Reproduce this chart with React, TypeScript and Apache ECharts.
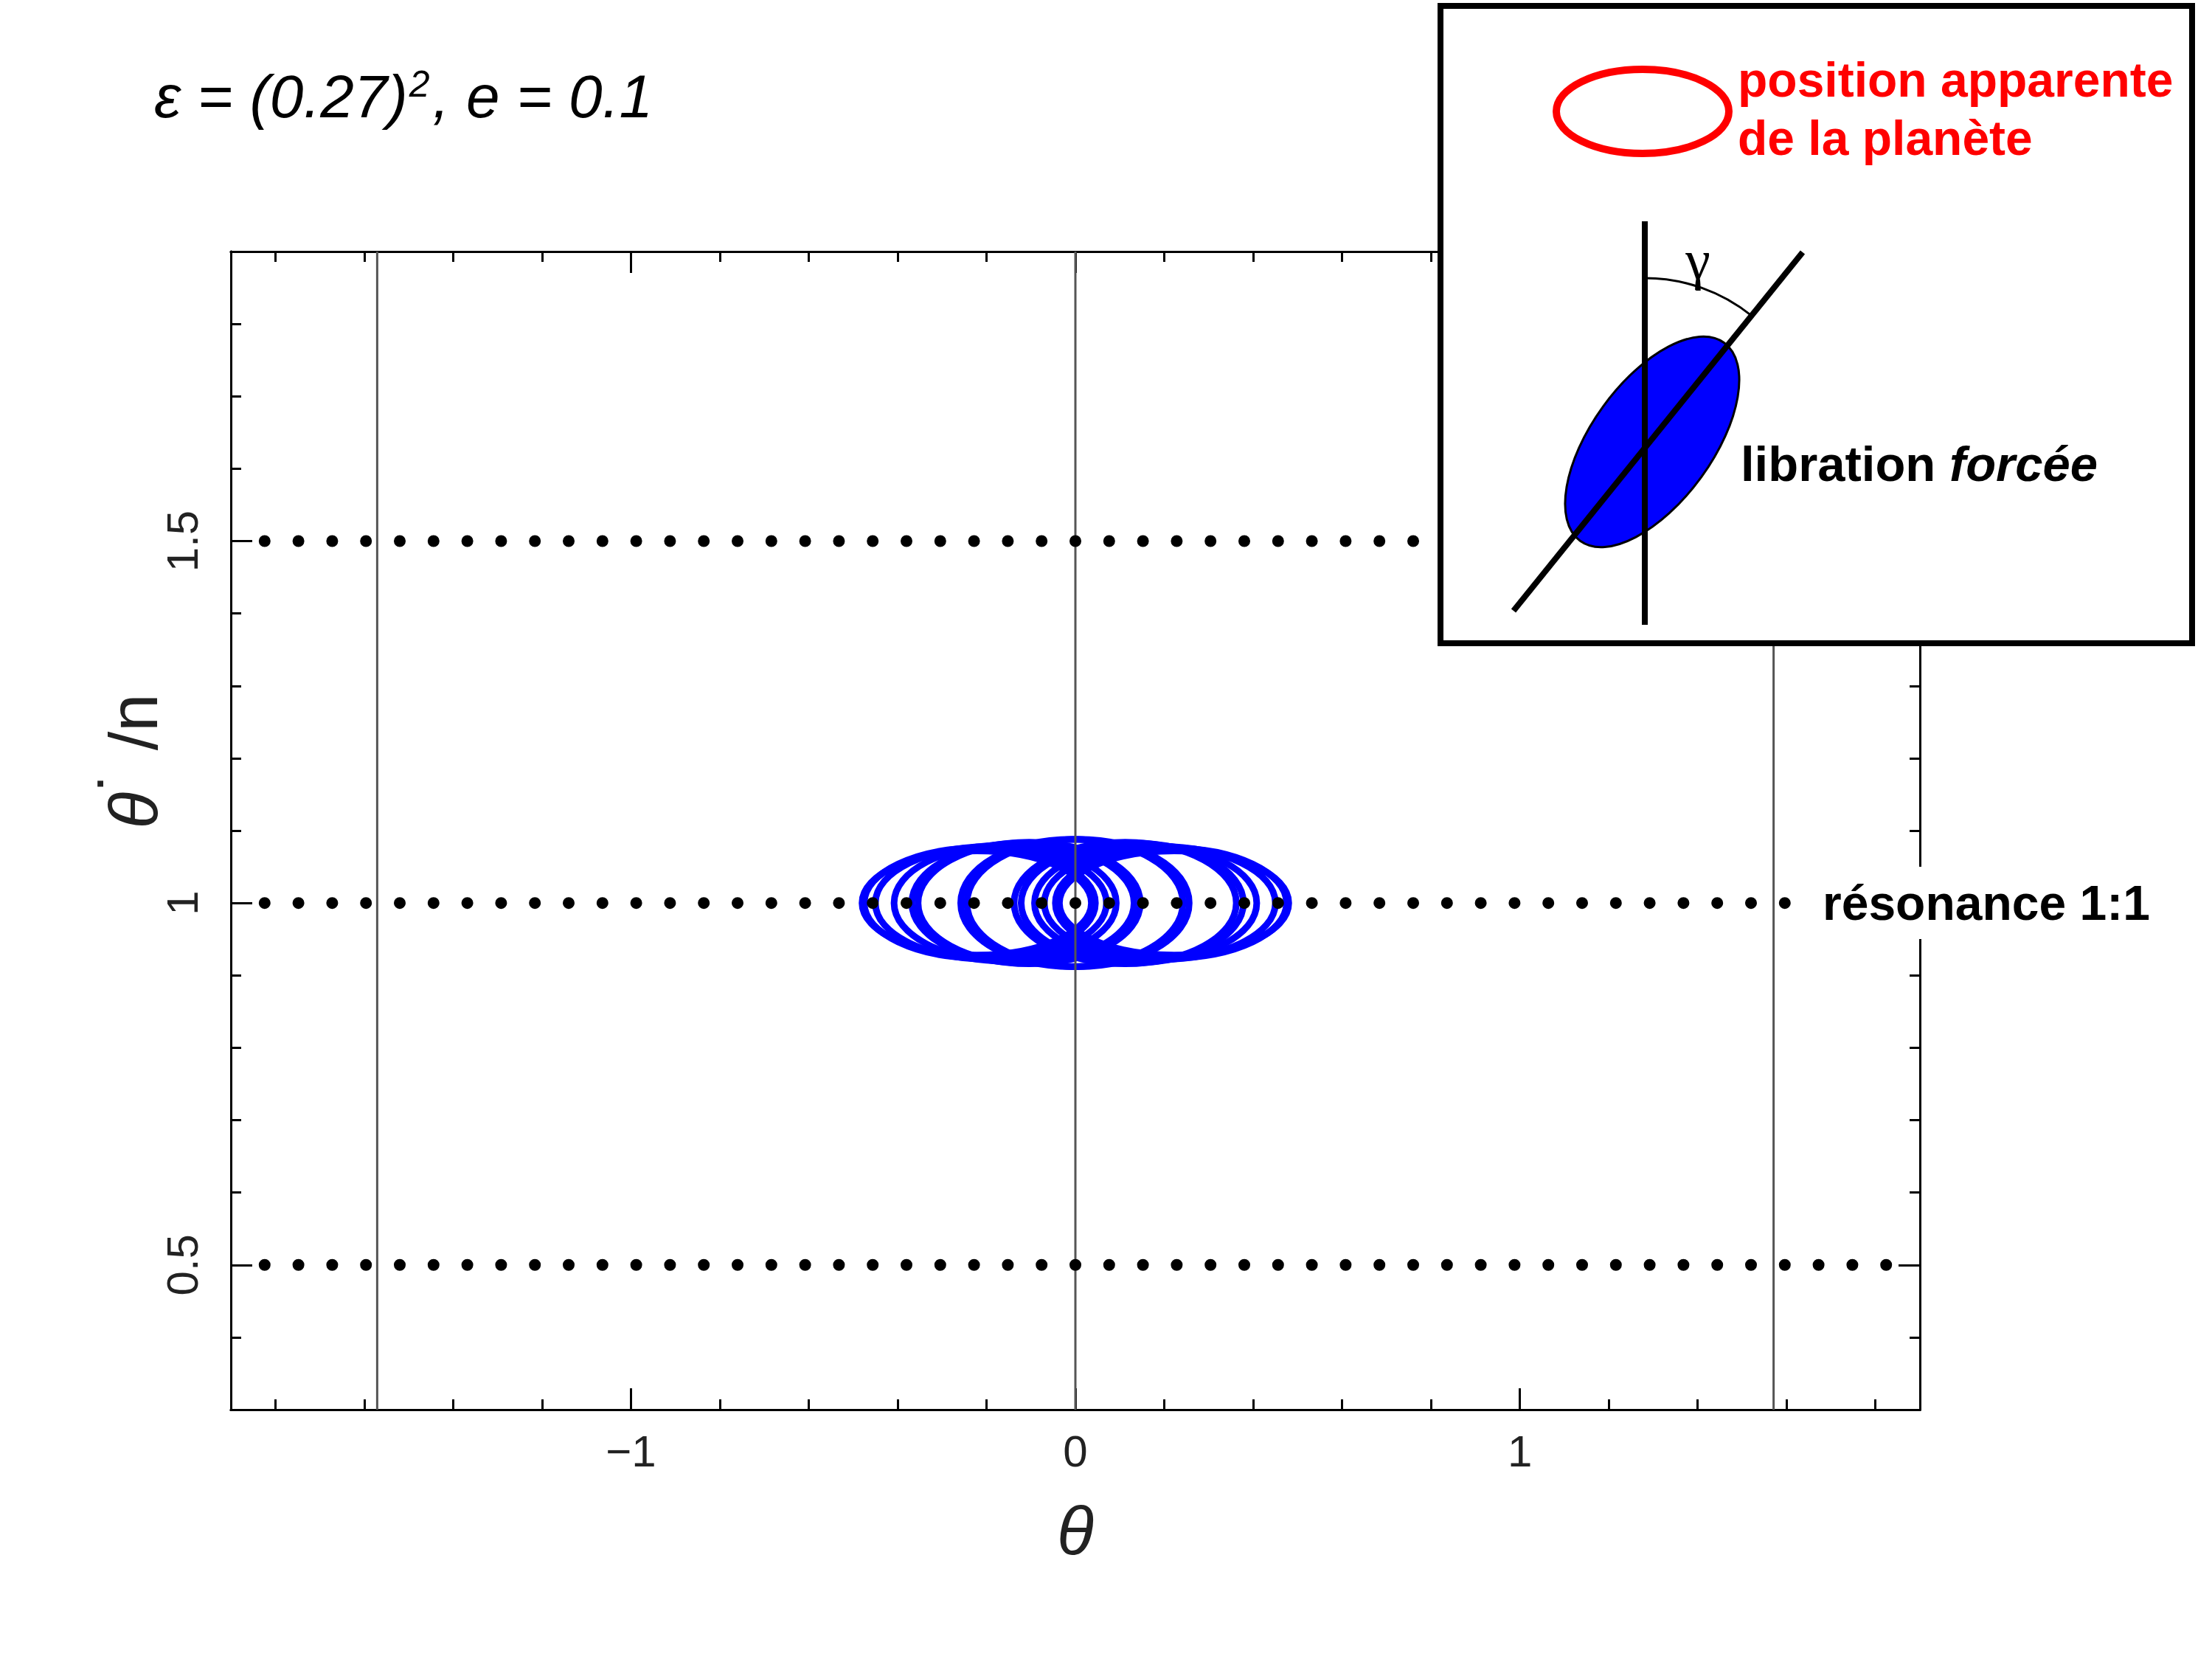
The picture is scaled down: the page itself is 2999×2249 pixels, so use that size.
import React, { useEffect, useRef } from 'react';
import * as echarts from 'echarts';

// ---- axes ----
const X_MIN = -1.9;
const X_MAX = 1.9;
const Y_MIN = 0.3;
const Y_MAX = 1.9;
const xMajorTicks = [-1, 0, 1];
const xMinorTicks = [-1.8, -1.6, -1.4, -1.2, -1.0, -0.8, -0.6, -0.4, -0.2, 0, 0.2, 0.4, 0.6, 0.8, 1.0, 1.2, 1.4, 1.6, 1.8];
const yMajorTicks = [0.5, 1, 1.5];
const yMinorTicks = [0.4, 0.5, 0.6, 0.7, 0.8, 0.9, 1.0, 1.1, 1.2, 1.3, 1.4, 1.5, 1.6, 1.7, 1.8];

// ---- reference lines ----
const separatrixTheta = [-1.5708, 0, 1.5708];
const resonanceLevels = [0.5, 1, 1.5];
const dottedStart = -1.824;
const dottedEnd = 1.825;

// ---- libration loops (centre theta, centre thetaDot/n, half-width, half-height) ----
const loopCenter = [-0.222, -0.215, -0.19, -0.158, -0.118, -0.104, -0.008, 0.006, 0.112, 0.128, 0.158, 0.19, 0.215, 0.222];
const loopLevel = [1.0, 1.0, 1.0, 1.0, 1.0, 1.0, 1.0, 1.0, 1.0, 1.0, 1.0, 1.0, 1.0, 1.0];
const loopHalfWidth = [0.258, 0.26, 0.26, 0.25, 0.25, 0.25, 0.25, 0.25, 0.25, 0.25, 0.25, 0.26, 0.26, 0.258];
const loopHalfHeight = [0.072, 0.076, 0.078, 0.08, 0.083, 0.084, 0.088, 0.088, 0.084, 0.083, 0.08, 0.078, 0.076, 0.072];

const FONT = "'Liberation Sans', Arial, Helvetica, sans-serif";

export default function App() {
  const ref = useRef<HTMLDivElement>(null);

  useEffect(() => {
    const chart = echarts.init(ref.current as HTMLDivElement, null, { renderer: 'svg' });

    const lineStyle = { color: '#000', width: 3 };
    const fmt = (v: number) => (v < 0 ? '\u2212' + Math.abs(v) : String(v));

    const xAxisDef = (position: string, ticks: number[], len: number, withLabels: boolean, extra: any = {}) => ({
      type: 'value',
      min: X_MIN,
      max: X_MAX,
      position,
      gridIndex: 0,
      axisLine: { show: true, onZero: false, lineStyle },
      axisTick: { show: true, inside: true, length: len, customValues: ticks, lineStyle },
      axisLabel: withLabels
        ? { show: true, customValues: xMajorTicks, formatter: fmt, fontSize: 60, fontFamily: FONT, color: '#222', margin: 26 }
        : { show: false },
      splitLine: { show: false },
      ...extra,
    });
    const yAxisDef = (position: string, ticks: number[], len: number, withLabels: boolean, extra: any = {}) => ({
      type: 'value',
      min: Y_MIN,
      max: Y_MAX,
      position,
      gridIndex: 0,
      axisLine: { show: true, onZero: false, lineStyle },
      axisTick: { show: true, inside: true, length: len, customValues: ticks, lineStyle },
      axisLabel: withLabels
        ? { show: true, customValues: yMajorTicks, rotate: 90, formatter: (v: number) => String(v), fontSize: 60, fontFamily: FONT, color: '#222', margin: 36 }
        : { show: false },
      splitLine: { show: false },
      ...extra,
    });

    const loopData = loopCenter.map((c, i) => [c, loopLevel[i], loopHalfWidth[i], loopHalfHeight[i]]);

    const series: any[] = [
      {
        type: 'custom',
        xAxisIndex: 0,
        yAxisIndex: 0,
        z: 2,
        data: loopData,
        renderItem: (params: any, api: any) => {
          const c = api.coord([api.value(0), api.value(1)]);
          const s = api.size([api.value(2), api.value(3)], [api.value(0), api.value(1)]);
          return {
            type: 'ellipse',
            shape: { cx: c[0], cy: c[1], rx: s[0], ry: s[1] },
            style: { fill: 'none', stroke: '#0000ff', lineWidth: 9 },
          };
        },
      },
      ...separatrixTheta.map((x) => ({
        type: 'line',
        xAxisIndex: 0,
        yAxisIndex: 0,
        z: 3,
        symbol: 'none',
        silent: true,
        data: [
          [x, Y_MIN],
          [x, Y_MAX],
        ],
        lineStyle: { color: '#555', width: 3 },
      })),
      ...resonanceLevels.map((y) => ({
        type: 'line',
        xAxisIndex: 0,
        yAxisIndex: 0,
        z: 4,
        symbol: 'none',
        silent: true,
        data: [
          [dottedStart, y],
          [dottedEnd, y],
        ],
        lineStyle: { color: '#000', width: 16, type: [0.01, 45.79], cap: 'round' },
      })),
    ];

    const option: any = {
      animation: false,
      backgroundColor: '#fff',
      title: {
        left: 204,
        top: 84,
        text: '{a|\u03b5 = (0.27)}{s|2}{a|, e = 0.1}',
        textStyle: {
          fontWeight: 'normal',
          rich: {
            a: { fontSize: 82, fontStyle: 'italic', fontWeight: 'normal', fontFamily: FONT, color: '#000' },
            s: { fontSize: 50, fontStyle: 'italic', fontWeight: 'normal', fontFamily: FONT, color: '#000', verticalAlign: 'top', padding: [0, 4, 0, 2] },
          },
        },
      },
      grid: { left: 313, top: 341, width: 2290, height: 1570, show: false },
      xAxis: [
        xAxisDef('bottom', xMajorTicks, 29, true, {
          name: '\u03b8',
          nameLocation: 'middle',
          nameGap: 164,
          nameMoveOverlap: false,
          nameTextStyle: { fontSize: 92, fontFamily: FONT, fontStyle: 'italic', color: '#222', verticalAlign: 'middle' },
        }),
        xAxisDef('bottom', xMinorTicks, 14, false),
        xAxisDef('top', xMajorTicks, 29, false),
        xAxisDef('top', xMinorTicks, 14, false),
      ],
      yAxis: [
        yAxisDef('left', yMajorTicks, 29, true, {
          name: '{i|\u03b8}{d|\u02d9}{r| /n}',
          nameLocation: 'middle',
          nameGap: 132,
          nameMoveOverlap: false,
          nameRotate: 90,
          nameTextStyle: {
            fontSize: 92,
            fontFamily: FONT,
            color: '#222',
            verticalAlign: 'middle',
            padding: [0, 0, 0, 188],
            rich: {
              i: { fontSize: 92, fontStyle: 'italic', fontFamily: FONT, color: '#222' },
              d: { fontSize: 92, fontFamily: FONT, color: '#222', verticalAlign: 'bottom', padding: [0, 0, 26, 0] },
              r: { fontSize: 92, fontFamily: FONT, color: '#222' },
            },
          },
        }),
        yAxisDef('left', yMinorTicks, 14, false),
        yAxisDef('right', yMajorTicks, 29, false),
        yAxisDef('right', yMinorTicks, 14, false),
      ],
      series,
      graphic: {
        elements: [
          {
            type: 'text',
            z: 90,
            x: 2440,
            y: 1224,
            style: {
              text: 'r\u00e9sonance 1:1',
              fill: '#000',
              fontSize: 66,
              fontWeight: 'bold',
              fontFamily: FONT,
              verticalAlign: 'middle',
              backgroundColor: '#fff',
              padding: [16, 20, 16, 31],
            },
          },
          {
            type: 'rect',
            z: 100,
            shape: { x: 1953, y: 8, width: 1019, height: 864 },
            style: { fill: '#fff', stroke: '#000', lineWidth: 8 },
          },
          {
            type: 'ellipse',
            z: 101,
            shape: { cx: 2227, cy: 151, rx: 117, ry: 57 },
            style: { fill: 'none', stroke: '#ff0000', lineWidth: 10 },
          },
          {
            type: 'text',
            z: 101,
            x: 2356,
            y: 108,
            style: { text: 'position apparente', fill: '#ff0000', fontSize: 66, fontWeight: 'bold', fontFamily: FONT, verticalAlign: 'middle' },
          },
          {
            type: 'text',
            z: 101,
            x: 2356,
            y: 187,
            style: { text: 'de la plan\u00e8te', fill: '#ff0000', fontSize: 66, fontWeight: 'bold', fontFamily: FONT, verticalAlign: 'middle' },
          },
          {
            type: 'ellipse',
            z: 101,
            x: 2240,
            y: 599,
            rotation: 0.942,
            shape: { cx: 0, cy: 0, rx: 166, ry: 82 },
            style: { fill: '#0000ff', stroke: '#000', lineWidth: 3 },
          },
          {
            type: 'line',
            z: 102,
            shape: { x1: 2230, y1: 300, x2: 2230, y2: 847 },
            style: { stroke: '#000', lineWidth: 8 },
          },
          {
            type: 'line',
            z: 102,
            shape: { x1: 2052, y1: 828, x2: 2444, y2: 342 },
            style: { stroke: '#000', lineWidth: 8 },
          },
          {
            type: 'arc',
            z: 102,
            shape: { cx: 2230, cy: 608, r: 231, startAngle: -Math.PI / 2, endAngle: -0.892, clockwise: true },
            style: { stroke: '#000', lineWidth: 3, fill: 'none' },
          },
          {
            type: 'text',
            z: 102,
            x: 2302,
            y: 352,
            style: { text: '\u03b3', fill: '#000', fontSize: 76, fontFamily: "'Liberation Serif', 'Times New Roman', serif", align: 'center', verticalAlign: 'middle' },
          },
          {
            type: 'text',
            z: 102,
            x: 2360,
            y: 628,
            style: {
              text: '{a|libration }{b|forc\u00e9e}',
              verticalAlign: 'middle',
              rich: {
                a: { fontSize: 67, fontWeight: 'bold', fontFamily: FONT, fill: '#000', color: '#000' },
                b: { fontSize: 67, fontWeight: 'bold', fontStyle: 'italic', fontFamily: FONT, fill: '#000', color: '#000' },
              },
            },
          },
        ],
      },
    };

    chart.setOption(option);
    return () => {
      chart.dispose();
    };
  }, []);

  return (
    <div
      ref={ref}
      style={{ position: 'absolute', left: 0, top: 0, width: 2999, height: 2249, background: '#fff' }}
    />
  );
}
